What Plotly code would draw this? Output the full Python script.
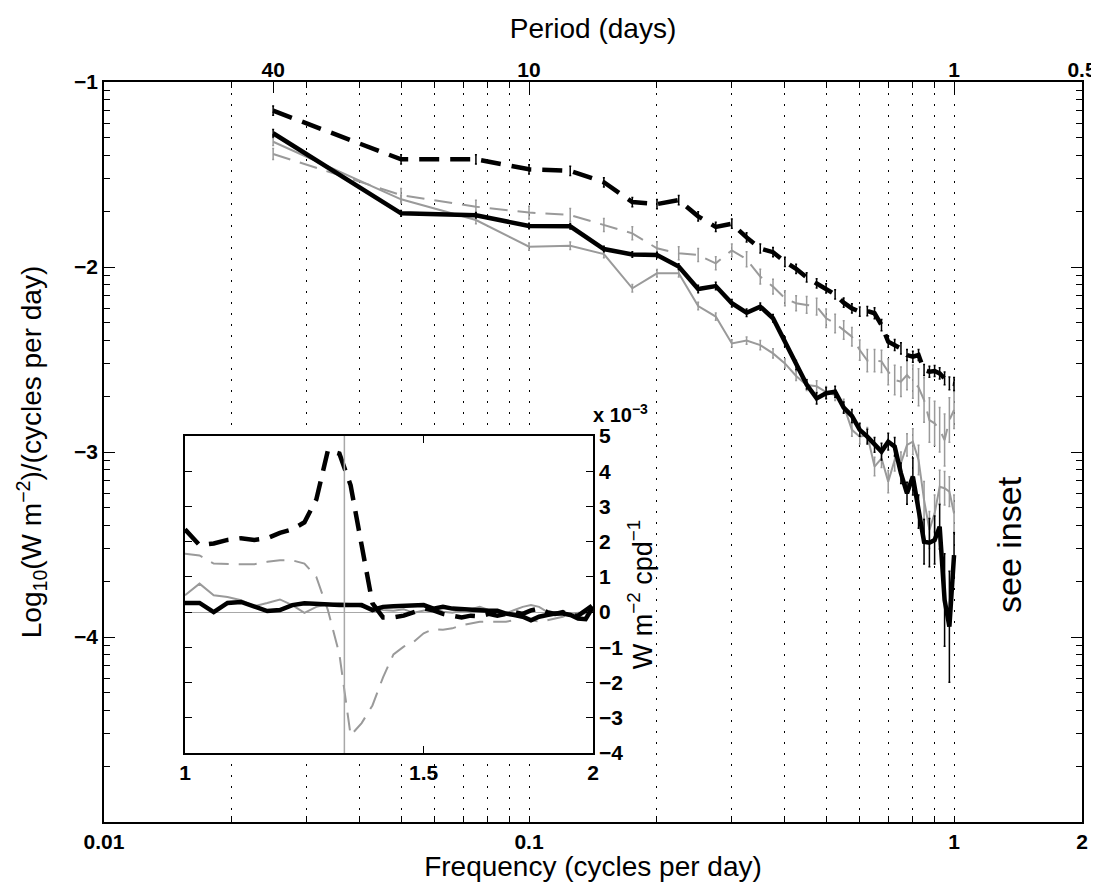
import plotly.graph_objects as go

# ---------------- data ----------------
FREQ = [0.025, 0.05, 0.075, 0.1, 0.125, 0.15, 0.175, 0.2, 0.225, 0.25,
        0.275, 0.3, 0.325, 0.35, 0.375, 0.4, 0.425, 0.45, 0.475, 0.5,
        0.525, 0.55, 0.575, 0.6, 0.625, 0.65, 0.675, 0.7, 0.725, 0.75,
        0.775, 0.8, 0.825, 0.85, 0.875, 0.9, 0.925, 0.95, 0.975, 1.0]

BLACK_SOLID = [-1.277, -1.71, -1.72, -1.778, -1.78, -1.903, -1.932, -1.935, -1.998, -2.119,
               -2.103, -2.196, -2.247, -2.214, -2.277, -2.404, -2.53, -2.635, -2.71, -2.682,
               -2.674, -2.76, -2.805, -2.88, -2.917, -2.962, -2.998, -2.944, -2.971, -3.115,
               -3.223, -3.133, -3.322, -3.485, -3.49, -3.476, -3.404, -3.8, -3.944, -3.557]
BLACK_SOLID_ERR = [0.02, 0.015, 0.015, 0.015, 0.015, 0.015, 0.015, 0.015, 0.015, 0.02,
                   0.02, 0.02, 0.02, 0.02, 0.02, 0.025, 0.025, 0.025, 0.03, 0.03,
                   0.03, 0.03, 0.035, 0.035, 0.04, 0.04, 0.045, 0.045, 0.05, 0.055,
                   0.06, 0.1, 0.09, 0.12, 0.13, 0.13, 0.12, 0.25, 0.3, 0.12]

GRAY_SOLID = [-1.323, -1.634, -1.746, -1.89, -1.885, -1.93, -2.115, -2.034, -2.034, -2.211,
              -2.268, -2.413, -2.398, -2.422, -2.467, -2.521, -2.589, -2.638, -2.645, -2.676,
              -2.692, -2.75, -2.88, -2.917, -2.908, -3.079, -3.034, -3.16, -3.043, -3.06,
              -2.962, -2.944, -3.043, -3.259, -3.421, -3.332, -3.188, -3.196, -3.214, -3.332]
GRAY_SOLID_ERR = [0.02, 0.02, 0.02, 0.02, 0.02, 0.02, 0.02, 0.02, 0.02, 0.02,
                  0.02, 0.02, 0.02, 0.025, 0.025, 0.025, 0.025, 0.03, 0.03, 0.03,
                  0.03, 0.035, 0.035, 0.04, 0.04, 0.05, 0.05, 0.06, 0.06, 0.06,
                  0.06, 0.07, 0.08, 0.1, 0.1, 0.1, 0.09, 0.09, 0.08, 0.1]

BLACK_DASH = [-1.155, -1.418, -1.418, -1.472, -1.48, -1.542, -1.649, -1.66, -1.638, -1.726,
              -1.783, -1.766, -1.84, -1.9, -1.92, -1.972, -2.01, -2.056, -2.089, -2.116,
              -2.148, -2.193, -2.224, -2.241, -2.238, -2.25, -2.314, -2.404, -2.422, -2.44,
              -2.476, -2.485, -2.476, -2.557, -2.566, -2.562, -2.575, -2.602, -2.629, -2.632]
BLACK_DASH_ERR = [0.025, 0.025, 0.025, 0.025, 0.025, 0.025, 0.025, 0.025, 0.025, 0.025,
                  0.025, 0.025, 0.025, 0.025, 0.025, 0.025, 0.025, 0.025, 0.025, 0.025,
                  0.025, 0.025, 0.025, 0.025, 0.025, 0.03, 0.03, 0.03, 0.03, 0.03,
                  0.03, 0.03, 0.03, 0.03, 0.03, 0.03, 0.03, 0.035, 0.035, 0.035]

GRAY_DASH = [-1.389, -1.611, -1.674, -1.706, -1.719, -1.773, -1.818, -1.899, -1.926, -1.935,
             -1.98, -1.91, -1.958, -2.052, -2.106, -2.169, -2.196, -2.205, -2.214, -2.277,
             -2.305, -2.341, -2.377, -2.449, -2.506, -2.506, -2.51, -2.566, -2.611, -2.62,
             -2.584, -2.62, -2.65, -2.719, -2.827, -2.845, -2.88, -2.935, -2.827, -2.773]
GRAY_DASH_ERR = [0.03, 0.035, 0.035, 0.035, 0.035, 0.035, 0.035, 0.035, 0.035, 0.035,
                 0.035, 0.035, 0.04, 0.04, 0.04, 0.04, 0.04, 0.045, 0.045, 0.05,
                 0.05, 0.05, 0.05, 0.055, 0.06, 0.06, 0.06, 0.07, 0.08, 0.08,
                 0.08, 0.09, 0.1, 0.12, 0.12, 0.12, 0.12, 0.14, 0.12, 0.1]

# inset (units of 1e-3 W m^-2 cpd^-1)
INSET_FREQ = [1.0, 1.025, 1.05, 1.075, 1.1, 1.125, 1.15, 1.175, 1.2, 1.225,
              1.25, 1.275, 1.3, 1.325, 1.35, 1.375, 1.4, 1.425, 1.45, 1.475,
              1.5, 1.525, 1.55, 1.575, 1.6, 1.625, 1.65, 1.675, 1.7, 1.725,
              1.75, 1.775, 1.8, 1.825, 1.85, 1.875, 1.9, 1.925, 1.95, 1.975, 2.0]
INSET_BLACK_DASH = [2.35, 1.9, 1.95, 2.05, 2.1, 2.05, 2.1, 2.25, 2.35, 2.55,
                    3.2, 4.6, 4.5, 3.6, 1.9, 0.25, -0.15, -0.15, -0.1, 0.0,
                    0.1, 0.05, -0.05, -0.1, -0.15, -0.1, -0.12, -0.05, -0.1, -0.05,
                    0.0, -0.05, 0.05, 0.1, 0.0, -0.05, 0.0, -0.1, -0.1, 0.05, 0.2]
INSET_GRAY_DASH = [1.66, 1.61, 1.38, 1.36, 1.36, 1.36, 1.43, 1.47, 1.47, 1.38,
                   1.0, 0.05, -1.2, -3.5, -3.15, -2.65, -1.85, -1.2, -0.98, -0.84,
                   -0.6, -0.48, -0.5, -0.46, -0.37, -0.32, -0.27, -0.27, -0.27, -0.27,
                   -0.23, -0.13, -0.23, -0.27, -0.23, -0.18, -0.13, -0.04, -0.04, 0.01, 0.15]
INSET_BLACK_SOLID = [0.26, 0.26, 0.0, 0.26, 0.29, 0.15, 0.03, 0.06, 0.2, 0.25,
                     0.23, 0.2, 0.2, 0.2, 0.2, 0.06, 0.15, 0.17, 0.17, 0.17,
                     0.2, 0.1, 0.15, 0.1, 0.08, 0.06, 0.06, 0.04, 0.04, -0.04,
                     -0.08, -0.13, -0.23, -0.13, -0.08, -0.04, -0.04, -0.08, -0.18, -0.2, 0.15]
INSET_GRAY_SOLID = [0.48, 0.81, 0.48, 0.43, 0.34, 0.17, 0.26, 0.36, 0.2, -0.02,
                    0.15, 0.22, 0.25, 0.23, 0.15, 0.1, 0.06, 0.04, 0.08, -0.02,
                    0.04, 0.1, 0.01, -0.02, 0.04, 0.08, 0.15, 0.06, 0.01, -0.04,
                    0.06, 0.15, 0.2, 0.15, 0.01, -0.08, -0.04, -0.08, -0.02, -0.04, 0.01]
INSET_DASH_ERR = 0.17
INSET_SOLID_ERR = 0.04
F_CORIOLIS = 1.311  # |f| in cpd

X_TICKS = [0.01, 0.1, 1, 2]
X_TICKTEXT = ['0.01', '0.1', '1', '2']
X_MINOR = [0.02, 0.03, 0.04, 0.05, 0.06, 0.07, 0.08, 0.09,
           0.2, 0.3, 0.4, 0.5, 0.6, 0.7, 0.8, 0.9]
PERIOD_TICKVALS = [0.025, 0.1, 1, 2]
PERIOD_TICKTEXT = ['40', '10', '1', '0.5']
Y_TICKS = [-4, -3, -2, -1]
Y_TICKTEXT = ['\u22124', '\u22123', '\u22122', '\u22121']
Y_MINOR = [n + v for n in (-5, -4, -3, -2)
           for v in (0.30103, 0.47712, 0.60206, 0.69897, 0.77815, 0.84510, 0.90309, 0.95424)]
INSET_XTICKS = [1, 1.5, 2]
INSET_XTICKTEXT = ['1', '1.5', '2']
INSET_YTICKS = [-4, -3, -2, -1, 0, 1, 2, 3, 4, 5]
INSET_YTICKTEXT = ['\u22124', '\u22123', '\u22122', '\u22121', '0', '1', '2', '3', '4', '5']

# ---------------- layout geometry (page pixels; body has an 8px margin) ----------------
OFF = 8
W, H = 1099 - OFF, 882 - OFF
PLOT_L, PLOT_R, PLOT_T, PLOT_B = 104 - OFF, 1082 - OFF, 82 - OFF, 822 - OFF
PW, PH = PLOT_R - PLOT_L, PLOT_B - PLOT_T


def px(x):
    return (x - OFF - PLOT_L) / PW


def py(y):
    return (PLOT_B - (y - OFF)) / PH


# ---------------- styles ----------------
BLACK = '#000000'
GRAY = '#9a9a9a'
LIGHTGRAY = '#a8a8a8'
FONT = 'Liberation Sans'
GRID_DASH = '1.5px,9.5px'

fig = go.Figure()


def add_series(x, y, err, color, width, dash, xa, ya, ethick):
    is_list = isinstance(err, list)
    fig.add_trace(go.Scatter(
        x=x, y=y, mode='lines', xaxis=xa, yaxis=ya,
        line=dict(color=color, width=width, dash=dash),
        error_y=dict(type='data', array=err if is_list else None,
                     value=None if is_list else err,
                     color=color, thickness=ethick, width=1),
        showlegend=False, hoverinfo='skip'))


# main
add_series(FREQ, GRAY_DASH, GRAY_DASH_ERR, GRAY, 2, '18px,10px', 'x', 'y', 1.5)
add_series(FREQ, GRAY_SOLID, GRAY_SOLID_ERR, GRAY, 2, 'solid', 'x', 'y', 1.5)
add_series(FREQ, BLACK_DASH, BLACK_DASH_ERR, BLACK, 4.5, '20px,11px', 'x', 'y', 1.5)
add_series(FREQ, BLACK_SOLID, BLACK_SOLID_ERR, BLACK, 4.5, 'solid', 'x', 'y', 1.5)

# invisible trace so that the top (period) axis is drawn
fig.add_trace(go.Scatter(x=[0.01, 2], y=[None, None], xaxis='x2', yaxis='y',
                         mode='lines', showlegend=False, hoverinfo='skip'))

# inset
add_series(INSET_FREQ, INSET_GRAY_DASH, INSET_DASH_ERR, GRAY, 2, '18px,10px', 'x3', 'y3', 1.5)
add_series(INSET_FREQ, INSET_GRAY_SOLID, INSET_SOLID_ERR, GRAY, 2, 'solid', 'x3', 'y3', 1.2)
add_series(INSET_FREQ, INSET_BLACK_DASH, INSET_DASH_ERR, BLACK, 4.5, '20px,11px', 'x3', 'y3', 1.5)
add_series(INSET_FREQ, INSET_BLACK_SOLID, INSET_SOLID_ERR, BLACK, 4.5, 'solid', 'x3', 'y3', 1.2)

tickfont = dict(family=FONT, size=21, color='black', weight='bold')
titlefont = dict(family=FONT, size=28, color='black')

fig.update_layout(
    width=W, height=H,
    margin=dict(l=PLOT_L, r=W - PLOT_R, t=PLOT_T, b=H - PLOT_B),
    paper_bgcolor='white', plot_bgcolor='white',
    showlegend=False,
    xaxis=dict(type='log', range=[-2, 0.30103], domain=[0, 1],
               tickvals=X_TICKS, ticktext=X_TICKTEXT, tickfont=tickfont,
               ticks='inside', ticklen=6, tickcolor='black',
               showline=True, linecolor='black', linewidth=1.5, mirror='ticks',
               showgrid=True, gridcolor='black', gridwidth=1, griddash=GRID_DASH,
               minor=dict(tickvals=X_MINOR, ticks='inside', ticklen=6, tickcolor='black',
                          showgrid=True, gridcolor='black', gridwidth=1, griddash=GRID_DASH),
               title=dict(text='Frequency (cycles per day)', font=titlefont, standoff=4),
               automargin=False, zeroline=False),
    xaxis2=dict(type='log', range=[-2, 0.30103], overlaying='x', side='top', anchor='y',
                tickvals=PERIOD_TICKVALS, ticktext=PERIOD_TICKTEXT, tickfont=tickfont,
                ticks='inside', ticklen=11, tickcolor='black', showgrid=False,
                showline=False, zeroline=False,
                title=dict(text='Period (days)', font=titlefont, standoff=10),
                automargin=False),
    yaxis=dict(range=[-5, -1], domain=[0, 1], tickvals=Y_TICKS, ticktext=Y_TICKTEXT,
               tickfont=tickfont, ticks='inside', ticklen=11, tickcolor='black',
               showline=True, linecolor='black', linewidth=1.5, mirror='ticks',
               showgrid=False, zeroline=False,
               minor=dict(tickvals=Y_MINOR, ticks='inside', ticklen=6, tickcolor='black'),
               title=dict(text='Log<sub>10</sub>(W m<sup>\u22122</sup>)/(cycles per day)',
                          font=titlefont, standoff=24),
               automargin=False),
    xaxis3=dict(type='log', range=[0, 0.30103], domain=[0.0828, 0.5], anchor='y3',
                tickvals=INSET_XTICKS, ticktext=INSET_XTICKTEXT, tickfont=tickfont,
                ticks='inside', ticklen=7, tickcolor='black',
                showline=True, linecolor='black', linewidth=1.5, mirror='ticks',
                showgrid=False, zeroline=False, automargin=False),
    yaxis3=dict(range=[-4, 5], domain=[0.0932, 0.5216], anchor='x3', side='right',
                tickvals=INSET_YTICKS, ticktext=INSET_YTICKTEXT, tickfont=tickfont,
                ticks='inside', ticklen=7, tickcolor='black',
                showline=True, linecolor='black', linewidth=1.5, mirror='ticks',
                showgrid=False, zeroline=True, zerolinecolor=LIGHTGRAY, zerolinewidth=1.2,
                title=dict(text='W m<sup>\u22122</sup> cpd<sup>\u22121</sup>',
                           font=dict(family=FONT, size=27, color='black'), standoff=10),
                automargin=False),
)

# Coriolis line in inset
fig.add_shape(type='line', xref='x3', yref='y3 domain', x0=F_CORIOLIS, x1=F_CORIOLIS,
              y0=0, y1=1, line=dict(color=LIGHTGRAY, width=1.5), layer='above')

fig.add_annotation(x=1.385, y=2.4, xref='x3', yref='y3', text='|f|', showarrow=False,
                   font=dict(family=FONT, size=24, color=LIGHTGRAY))
fig.add_annotation(x=px(591), y=py(428), xref='paper', yref='paper',
                   xanchor='left', yanchor='bottom',
                   text='<b>x 10<sup>\u22123</sup></b>', showarrow=False,
                   font=dict(family=FONT, size=20, color='black'))
fig.add_annotation(x=px(1030), y=py(545), xref='paper', yref='paper', text='see inset',
                   showarrow=False, textangle=-90,
                   font=dict(family=FONT, size=34, color='black'))

fig.write_html('out.html')
